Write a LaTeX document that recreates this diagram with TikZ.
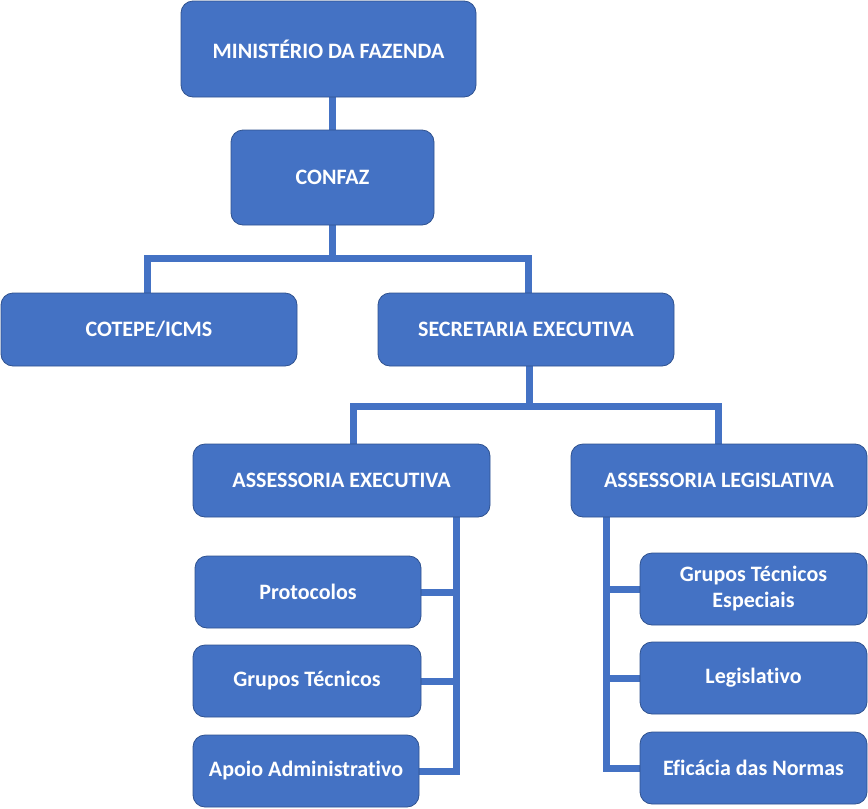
\documentclass[tikz,border=0pt]{standalone}
\usepackage{fontspec}
\setmainfont{Carlito}[Ligatures=NoCommon]
\usetikzlibrary{backgrounds}
\definecolor{boxblue}{HTML}{4472C4}
\definecolor{boxedge}{HTML}{2F528F}
\begin{document}
\begin{tikzpicture}[x=1pt,y=-1pt,
  box/.style={draw=boxedge, line width=0.8pt, fill=boxblue, rounded corners=12pt,
    text=white, align=center, inner sep=0pt, font=\bfseries\fontsize{22}{26}\selectfont},
  head/.style={box},
  sub/.style={box},
  link/.style={draw=boxblue, line width=7pt}]
\useasboundingbox (0,0) rectangle (868,809);

\node[head, minimum width=295pt, minimum height=96pt] (m) at (328.5,49) {MINISTÉRIO DA FAZENDA};
\node[head, minimum width=203pt, minimum height=95pt] (c) at (332.5,177.5) {CONFAZ};
\node[head, minimum width=296pt, minimum height=73pt] (cot) at (149,329.5) {COTEPE/ICMS};
\node[head, minimum width=296pt, minimum height=73pt] (sec) at (526,329.5) {SECRETARIA EXECUTIVA};
\node[head, minimum width=297pt, minimum height=73pt] (ae) at (341.5,480.5) {ASSESSORIA EXECUTIVA};
\node[head, minimum width=296pt, minimum height=73pt] (al) at (719,480.5) {ASSESSORIA LEGISLATIVA};

\node[sub, minimum width=226pt, minimum height=72pt] (p) at (308,592) {Protocolos};
\node[sub, minimum width=228pt, minimum height=72pt] (gt) at (307,681) {Grupos Técnicos};
\node[sub, minimum width=226pt, minimum height=72pt] (aa) at (306,771) {Apoio Administrativo};
\node[sub, minimum width=227pt, minimum height=72pt] (gte) at (753.5,589) {Grupos Técnicos\\Especiais};
\node[sub, minimum width=227pt, minimum height=72pt] (leg) at (753.5,678) {Legislativo};
\node[sub, minimum width=227pt, minimum height=72pt] (ef) at (753.5,768) {Eficácia das Normas};

\coordinate (j1) at (330,258);
\coordinate (j2) at (529,406);
\coordinate (aex) at ([xshift=115pt]ae.south);
\coordinate (alx) at ([xshift=-113pt]al.south);

\begin{scope}[on background layer]
  \draw[link] (c.north) -- (c.north |- m.south);
  \draw[link] (c.south) -- (c.south |- j1);
  \draw[link] ([xshift=-2pt]cot.north) |- (j1) -| ([xshift=2pt]sec.north);
  \draw[link] ([xshift=3pt]sec.south) -- ([xshift=3pt]sec.south |- j2);
  \draw[link] ([xshift=11.5pt]ae.north) |- (j2) -| ([xshift=-1pt]al.north);
  \draw[link] (aex) |- (aa.east);
  \draw[link] (p.east) -- (p.east -| aex);
  \draw[link] (gt.east) -- (gt.east -| aex);
  \draw[link] (alx) |- (ef.west);
  \draw[link] (gte.west) -- (gte.west -| alx);
  \draw[link] (leg.west) -- (leg.west -| alx);
\end{scope}
\end{tikzpicture}
\end{document}
